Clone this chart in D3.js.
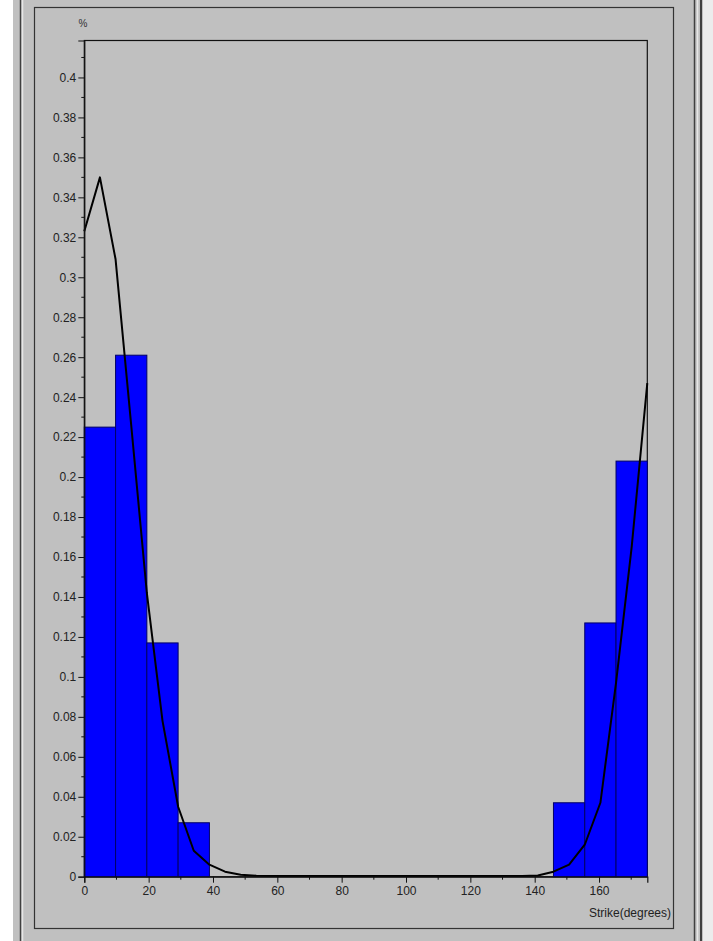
<!DOCTYPE html>
<html>
<head>
<meta charset="utf-8">
<script src="https://cdn.jsdelivr.net/npm/d3@7"></script>
<style>
  html, body { margin: 0; padding: 0; background: #fff; }
  svg { display: block; }
  .tick text { font-family: "Liberation Sans", Arial, sans-serif; font-size: 12px; fill: #222; }
</style>
</head>
<body>
<div id="chart"></div>
<script>
// histogram bins (start of each bin, degrees) and share of strikes in each
const binStart = [0, 9.72, 19.44, 29.17, 38.89, 48.61, 58.33, 68.06, 77.78, 87.5,
                  97.22, 106.94, 116.67, 126.39, 136.11, 145.83, 155.56, 165.28];
const binWidth = 9.72;
const binPct = [0.225, 0.261, 0.117, 0.027, 0, 0, 0, 0, 0, 0,
                0, 0, 0, 0, 0, 0.037, 0.127, 0.208];

// fitted density curve
const curveX = [0, 4.86, 9.72, 14.58, 19.44, 24.31, 29.17, 34.03, 38.89, 43.75,
                48.61, 53.47, 58.33, 68.06, 77.78, 87.5, 97.22, 106.94, 116.67, 126.39,
                136.11, 140.97, 145.83, 150.69, 155.56, 160.42, 165.28, 170.14, 175];
const curveY = [0.323, 0.350, 0.309, 0.226, 0.142, 0.078, 0.035, 0.013, 0.006, 0.0025,
                0.001, 0.0005, 0.0003, 0.0003, 0.0003, 0.0003, 0.0003, 0.0003, 0.0003, 0.0003,
                0.0003, 0.0006, 0.0025, 0.006, 0.016, 0.037, 0.097, 0.165, 0.247];

const yTicks = [0, 0.02, 0.04, 0.06, 0.08, 0.1, 0.12, 0.14, 0.16, 0.18, 0.2,
                0.22, 0.24, 0.26, 0.28, 0.3, 0.32, 0.34, 0.36, 0.38, 0.4];
const xTicks = [0, 20, 40, 60, 80, 100, 120, 140, 160];

const W = 713, H = 941;
const plot = {left: 84.3, top: 40.5, right: 647.3, bottom: 876.7};

const svg = d3.select("#chart").append("svg")
    .attr("width", W)
    .attr("height", H);

// window chrome
svg.append("rect").attr("x", 13).attr("y", 0).attr("width", 690).attr("height", H).attr("fill", "#c0c0c0");
svg.append("rect").attr("x", 703).attr("y", 0).attr("width", 10).attr("height", H).attr("fill", "#ececec");
[[20.5, "#404040"], [22.5, "#e6e6e6"], [694.5, "#404040"], [697.5, "#e6e6e6"], [701, "#404040"]]
    .forEach(([x, c]) => {
        svg.append("line").attr("x1", x).attr("x2", x).attr("y1", 0).attr("y2", H)
            .attr("stroke", c).attr("stroke-width", x === 701 ? 2 : 1.5);
    });
svg.append("rect")
    .attr("x", 34.5).attr("y", 7.5)
    .attr("width", 673.5 - 34.5).attr("height", 928.5 - 7.5)
    .attr("fill", "none").attr("stroke", "#333").attr("stroke-width", 1.2);

const x = d3.scaleLinear().domain([0, 175]).range([plot.left, plot.right]);
const y = d3.scaleLinear().domain([0, 0.4185]).range([plot.bottom, plot.top]);

// plot box
svg.append("rect")
    .attr("x", plot.left).attr("y", plot.top)
    .attr("width", plot.right - plot.left).attr("height", plot.bottom - plot.top)
    .attr("fill", "#c0c0c0").attr("stroke", "#111").attr("stroke-width", 1.2);

// bars
svg.append("g")
    .selectAll("rect")
    .data(binStart.map((s, i) => ({s, v: binPct[i]})).filter(d => d.v > 0))
    .join("rect")
        .attr("x", d => x(d.s))
        .attr("y", d => y(d.v))
        .attr("width", d => x(d.s + binWidth) - x(d.s))
        .attr("height", d => y(0) - y(d.v))
        .attr("fill", "#0000ff")
        .attr("stroke", "#000066")
        .attr("stroke-width", 1);

// curve
const line = d3.line()
    .x((d, i) => x(curveX[i]))
    .y(d => y(d));
svg.append("path")
    .datum(curveY)
    .attr("d", line)
    .attr("fill", "none")
    .attr("stroke", "#000")
    .attr("stroke-width", 2)
    .attr("stroke-linejoin", "round");

// y axis
const yAxis = svg.append("g")
    .attr("transform", `translate(${plot.left},0)`)
    .call(d3.axisLeft(y).tickValues(yTicks).tickSize(6).tickPadding(2)
        .tickFormat(d => String(+d.toFixed(2))));
yAxis.append("g").selectAll("line")
    .data(yTicks.map(t => t + 0.01))
    .join("line")
        .attr("x1", -3).attr("x2", 0)
        .attr("y1", d => y(d)).attr("y2", d => y(d))
        .attr("stroke", "#111");

// x axis
const xAxis = svg.append("g")
    .attr("transform", `translate(0,${plot.bottom})`)
    .call(d3.axisBottom(x).tickValues(xTicks).tickSize(6).tickPadding(4));
xAxis.append("g").selectAll("line")
    .data(xTicks.map(t => t + 10))
    .join("line")
        .attr("x1", d => x(d)).attr("x2", d => x(d))
        .attr("y1", 0).attr("y2", 3)
        .attr("stroke", "#111");

[yAxis, xAxis].forEach(g => {
    g.select(".domain").attr("stroke", "#111").attr("stroke-width", 1.2);
    g.selectAll(".tick line").attr("stroke", "#111");
});

svg.append("text")
    .attr("x", 83).attr("y", 27)
    .attr("text-anchor", "middle")
    .attr("font-family", "Liberation Sans, Arial, sans-serif")
    .attr("font-size", 10).attr("fill", "#333")
    .text("%");

svg.append("text")
    .attr("x", 671).attr("y", 917)
    .attr("text-anchor", "end")
    .attr("font-family", "Liberation Sans, Arial, sans-serif")
    .attr("font-size", 12).attr("fill", "#222")
    .text("Strike(degrees)");
</script>
</body>
</html>
